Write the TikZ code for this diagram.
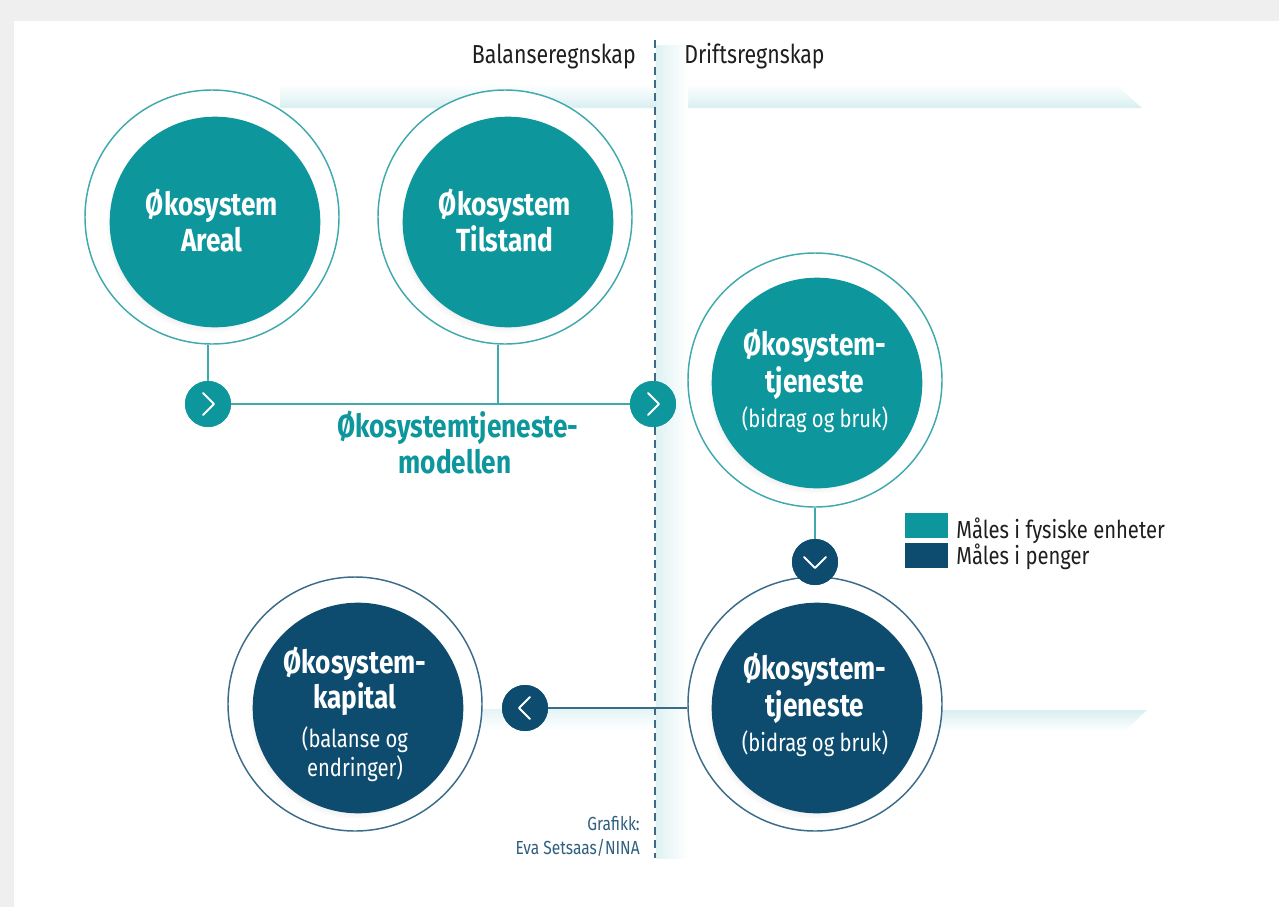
\documentclass[tikz,border=0pt]{standalone}
\usepackage{fontspec}
\setmainfont{Fira Sans}[FakeStretch=0.82]
\usetikzlibrary{shadows,calc}
\definecolor{pagegray}{HTML}{EFEFEF}
\definecolor{tealA}{HTML}{0E969D}
\definecolor{darkA}{HTML}{0D4C6E}
\definecolor{ringteal}{HTML}{3FA9AE}
\definecolor{ringdark}{HTML}{3A6C8A}
\definecolor{bandteal}{HTML}{D2ECEE}
\definecolor{dashcol}{HTML}{3E6A85}
\definecolor{credit}{HTML}{2F5F7F}
\definecolor{headtxt}{HTML}{1E1E1E}
\tikzset{
  ring/.style={circle, draw=#1, line width=1.1pt, fill=white, minimum size=190.5pt, inner sep=0pt},
  core/.style={circle, fill=#1, minimum size=158pt, inner sep=0pt,
    circular drop shadow={shadow xshift=-3pt, shadow yshift=-4pt, shadow scale=1.0, opacity=0.25}},
  chevbox/.style={circle, fill=#1, minimum size=34.5pt, inner sep=0pt},
  chevline/.style={white, line width=1.5pt, line cap=round, line join=round},
  link/.style={draw=#1, line width=1.3pt},
  titletxt/.style={text=white, font=\bfseries\fontsize{24}{28}\selectfont, anchor=base, inner sep=0pt},
  subtxt/.style={text=white, font=\fontsize{18.5}{22}\selectfont, anchor=base, inner sep=0pt},
  headtext/.style={text=headtxt, font=\fontsize{19.5}{23}\selectfont, inner sep=0pt},
  legtext/.style={text=headtxt, font=\fontsize{18.5}{22}\selectfont, anchor=base west, inner sep=0pt},
  credtext/.style={text=credit, font=\fontsize{14.2}{17}\selectfont, anchor=base east, inner sep=0pt},
  modeltxt/.style={text=tealA, font=\bfseries\fontsize{24}{28}\selectfont, anchor=base, inner sep=0pt},
}
\begin{document}
\begin{tikzpicture}[x=0.75pt,y=-0.75pt]
\useasboundingbox (0,0) rectangle (1279,907);
% page background
\fill[pagegray] (0,0) rectangle (1279,907);
\fill[white] (14,21) rectangle (1279,907);

% light bands
\shade[top color=white, bottom color=bandteal!85] (280,84) -- (1115,84) -- (1142,108) -- (280,108) -- cycle;
\shade[top color=bandteal!85, bottom color=white] (900,710) -- (1147,710) -- (1125,731) -- (900,731) -- cycle;
\shade[top color=bandteal!60, bottom color=white] (470,709) rectangle (700,730);
\shade[left color=bandteal!70, right color=white] (656,45) rectangle (688,858);

% dashed divider
\coordinate (dtop) at (655,40);
\coordinate (dbot) at (655,858);
\draw[dashcol, line width=1.4pt, dash pattern=on 6pt off 4pt] (dtop) -- (dbot);

% headers
\node[headtext, anchor=base east] (hBal) at (636,63) {Balanseregnskap};
\node[headtext, anchor=base west] (hDri) at (684,63) {Driftsregnskap};

% outer rings
\node[ring=ringteal] (Ao) at (212,217) {};
\node[ring=ringteal] (To) at (505,217) {};
\node[ring=ringteal] (S1o) at (815,380) {};
\node[ring=ringdark] (S2o) at (815,704) {};
\node[ring=ringdark] (Ko) at (355,704) {};

% inner filled circles
\node[core=tealA] (A) at (215,222) {};
\node[core=tealA] (T) at (508,222) {};
\node[core=tealA] (S1) at (817,383) {};
\node[core=darkA] (S2) at (817,708) {};
\node[core=darkA] (K) at (358,708) {};

% chevron markers
\node[chevbox=tealA] (c1) at (208,404) {};
\node[chevbox=tealA] (c2) at (653,404) {};
\node[chevbox=darkA] (c3) at (815,562) {};
\node[chevbox=darkA] (c4) at (525,708) {};

% connectors
\draw[link=ringteal] (c1.north) -- (c1.north |- Ao.south);
\draw[link=ringteal] (c1.east) -- (c2.west);
\draw[link=ringteal] ($(To.south)+(-7,0)$) -- ($(To.south |- c1)+(-7,0)$);
\draw[link=ringteal] (c3.north) -- (c3.north |- S1o.south);
\draw[link=ringdark] (c4.east) -- (c4.east -| S2o.west);

% redraw chevrons on top of lines
\node[chevbox=tealA] at (c1) {};
\node[chevbox=tealA] at (c2) {};
\node[chevbox=darkA] at (c3) {};
\node[chevbox=darkA] at (c4) {};
\draw[chevline] ($(c1)+(-5,-11)$) -- ($(c1)+(6,0)$) -- ($(c1)+(-5,11)$);
\draw[chevline] ($(c2)+(-5,-11)$) -- ($(c2)+(6,0)$) -- ($(c2)+(-5,11)$);
\draw[chevline] ($(c3)+(-11,-5)$) -- ($(c3)+(0,6)$) -- ($(c3)+(11,-5)$);
\draw[chevline] ($(c4)+(5,-11)$) -- ($(c4)+(-6,0)$) -- ($(c4)+(5,11)$);

% circle texts
\node[titletxt] (tA1) at (212,215) {Økosystem};
\node[titletxt] (tA2) at (212,251) {Areal};
\node[titletxt] (tT1) at (505,215) {Økosystem};
\node[titletxt] (tT2) at (505,251) {Tilstand};
\node[titletxt] (tS1a) at (815,355) {Økosystem-};
\node[titletxt] (tS1b) at (815,392) {tjeneste};
\node[subtxt] (tS1c) at (815,427) {(bidrag og bruk)};
\node[titletxt] (tS2a) at (815,679) {Økosystem-};
\node[titletxt] (tS2b) at (815,716) {tjeneste};
\node[subtxt] (tS2c) at (815,751) {(bidrag og bruk)};
\node[titletxt] (tK1) at (355,673) {Økosystem-};
\node[titletxt] (tK2) at (355,708) {kapital};
\node[subtxt] (tK3) at (355,747) {(balanse og};
\node[subtxt] (tK4) at (355,776) {endringer)};

% model label
\node[modeltxt] (m1) at (458,437) {Økosystemtjeneste-};
\node[modeltxt] (m2) at (455,473) {modellen};

% legend
\node[fill=tealA, minimum width=32.25pt, minimum height=18.75pt, inner sep=0pt, anchor=north west] (lg1) at (905,513) {};
\node[fill=darkA, minimum width=32.25pt, minimum height=18.75pt, inner sep=0pt, anchor=north west] (lg2) at (905,543) {};
\node[legtext] (lt1) at (956,538) {Måles i fysiske enheter};
\node[legtext] (lt2) at (956,564) {Måles i penger};

% credit
\node[credtext] (cr1) at (640,830) {Grafikk:};
\node[credtext] (cr2) at (640,854) {Eva Setsaas/NINA};
\end{tikzpicture}
\end{document}
